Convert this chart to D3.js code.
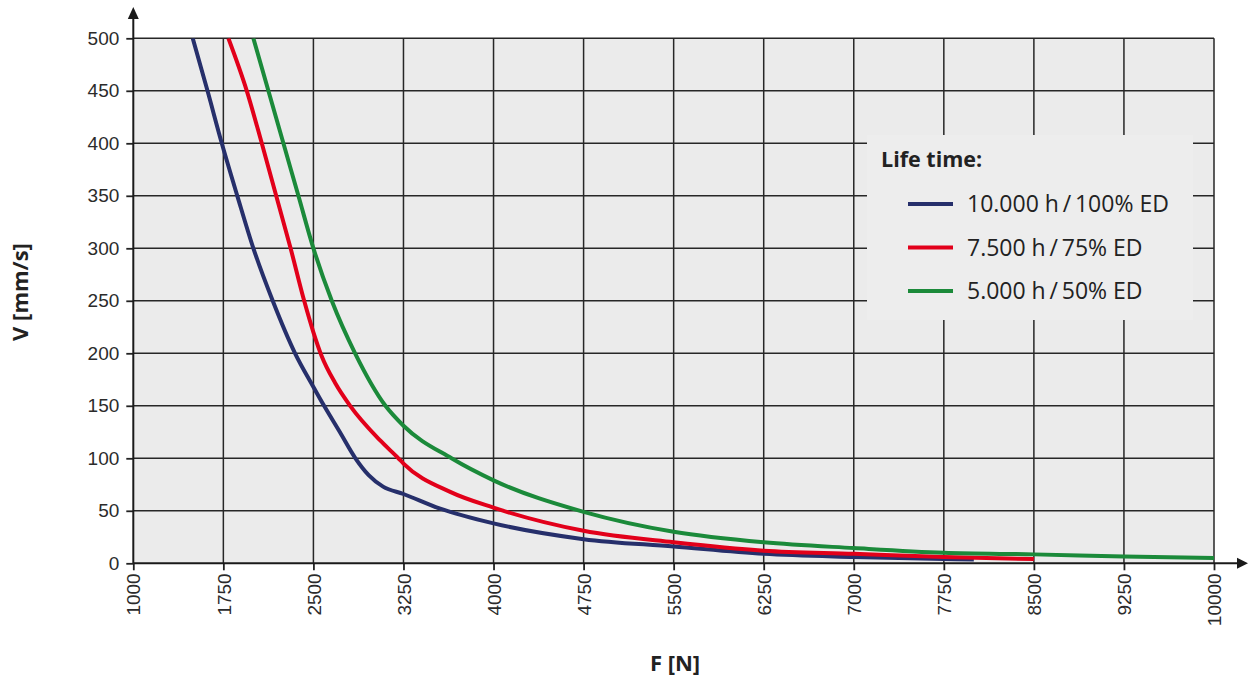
<!DOCTYPE html>
<html>
<head>
<meta charset="utf-8">
<script src="https://cdn.jsdelivr.net/npm/d3@7"></script>
<style>
  body { margin: 0; background: #fff; }
  svg { display: block; }
</style>
</head>
<body>
<div id="chart"></div>
<script>
// Données (F en N, V en mm/s)
const xTicks = [1000, 1750, 2500, 3250, 4000, 4750, 5500, 6250, 7000, 7750, 8500, 9250, 10000];
const yTicks = [0, 50, 100, 150, 200, 250, 300, 350, 400, 450, 500];

const forceBleu = [1495, 1618, 1737, 1866, 2000, 2161, 2347, 2500, 2589, 2720, 2850, 2960, 3080, 3250, 3556, 4000, 4750, 5500, 6250, 7000, 7750, 8000];
const vitesseBleu = [500, 450, 400, 350, 300, 250, 200, 168, 150, 125, 100, 84, 73, 66, 52, 38, 23, 16, 9, 6, 4, 3.5];

const forceRouge = [1792, 1945, 2070, 2190, 2310, 2423, 2500, 2570, 2680, 2806, 3056, 3208, 3250, 3639, 4000, 4750, 5500, 6250, 7000, 7750, 8500];
const vitesseRouge = [500, 450, 400, 350, 300, 250, 220, 197, 172, 150, 117, 100, 95, 68, 53, 31, 20, 12, 9, 6, 4];

const forceVert = [2000, 2125, 2250, 2375, 2500, 2653, 2847, 3100, 3250, 3650, 4000, 4750, 5500, 6250, 7000, 7750, 8500, 9250, 10000];
const vitesseVert = [500, 450, 400, 350, 300, 250, 200, 150, 131, 100, 79, 49, 30, 20, 14.5, 10, 8.5, 6.5, 5];

const series = [
  { nom: "10.000 h\u2009/\u2009100% ED", f: forceBleu, v: vitesseBleu, couleur: "#262f6b" },
  { nom: "7.500 h\u2009/\u200975% ED", f: forceRouge, v: vitesseRouge, couleur: "#e2001a" },
  { nom: "5.000 h\u2009/\u200950% ED", f: forceVert, v: vitesseVert, couleur: "#1b8a3a" }
];

const W = 1248, H = 677;
const svg = d3.select("#chart").append("svg")
  .attr("width", W).attr("height", H);

const x = d3.scaleLinear().domain([1000, 10000]).range([133.3, 1214]);
const y = d3.scaleLinear().domain([0, 500]).range([563.3, 38.3]);

// fond du graphique
svg.append("rect")
  .attr("x", x(1000)).attr("y", y(500))
  .attr("width", x(10000) - x(1000)).attr("height", y(0) - y(500))
  .attr("fill", "#ebebeb");

// grille
const grille = svg.append("g").attr("stroke", "#262626").attr("stroke-width", 1.5);
grille.selectAll("line.v").data(xTicks.slice(1)).join("line")
  .attr("x1", d => x(d)).attr("x2", d => x(d))
  .attr("y1", y(0)).attr("y2", y(500));
grille.selectAll("line.h").data(yTicks.slice(1)).join("line")
  .attr("x1", x(1000)).attr("x2", x(10000))
  .attr("y1", d => y(d)).attr("y2", d => y(d));

// courbes
svg.append("clipPath").attr("id", "clip")
  .append("rect")
  .attr("x", x(1000)).attr("y", y(500))
  .attr("width", x(10000) - x(1000)).attr("height", y(0) - y(500));

const ligne = d3.line()
  .x(d => x(d[0])).y(d => y(d[1]))
  .curve(d3.curveMonotoneX);

svg.append("g").attr("clip-path", "url(#clip)")
  .selectAll("path").data(series).join("path")
  .attr("d", s => ligne(s.f.map((f, i) => [f, s.v[i]])))
  .attr("fill", "none")
  .attr("stroke", s => s.couleur)
  .attr("stroke-width", 4)
  .attr("stroke-linejoin", "round");

// axes
const axeX = svg.append("g")
  .attr("transform", "translate(0," + y(0) + ")")
  .call(d3.axisBottom(x).tickValues(xTicks).tickSize(7).tickFormat(d3.format("d")));
axeX.select(".domain").remove();
axeX.selectAll("line").attr("stroke", "#222").attr("stroke-width", 1.8);
axeX.selectAll("text")
  .attr("transform", "rotate(-90)")
  .attr("x", -10).attr("y", 0).attr("dy", "0.35em")
  .attr("text-anchor", "end")
  .attr("font-family", "Liberation Sans, Arial, sans-serif")
  .attr("font-size", 19).attr("fill", "#2b2b2b");

const axeY = svg.append("g")
  .attr("transform", "translate(" + x(1000) + ",0)")
  .call(d3.axisLeft(y).tickValues(yTicks).tickSize(7));
axeY.select(".domain").remove();
axeY.selectAll("line").attr("stroke", "#222").attr("stroke-width", 1.8);
axeY.selectAll("text")
  .attr("x", -14)
  .attr("font-family", "Liberation Sans, Arial, sans-serif")
  .attr("font-size", 19).attr("fill", "#2b2b2b");

// lignes d'axe avec flèches
svg.append("line")
  .attr("x1", x(1000)).attr("y1", y(0)).attr("x2", 1238).attr("y2", y(0))
  .attr("stroke", "#1a1a1a").attr("stroke-width", 2);
svg.append("path")
  .attr("d", "M1237," + (y(0) - 5.5) + " L1248," + y(0) + " L1237," + (y(0) + 5.5) + "Z")
  .attr("fill", "#1a1a1a");
svg.append("line")
  .attr("x1", x(1000)).attr("y1", y(0)).attr("x2", x(1000)).attr("y2", 18)
  .attr("stroke", "#1a1a1a").attr("stroke-width", 2);
svg.append("path")
  .attr("d", "M" + (x(1000) - 5.5) + ",19 L" + x(1000) + ",7 L" + (x(1000) + 5.5) + ",19Z")
  .attr("fill", "#1a1a1a");

// titres des axes
svg.append("text")
  .attr("x", 675).attr("y", 671)
  .attr("text-anchor", "middle")
  .attr("font-family", "Open Sans, sans-serif").attr("font-weight", "bold")
  .attr("font-size", 22).attr("fill", "#222")
  .text("F [N]");
svg.append("text")
  .attr("transform", "translate(28,292) rotate(-90)")
  .attr("text-anchor", "middle")
  .attr("font-family", "Open Sans, sans-serif").attr("font-weight", "bold")
  .attr("font-size", 22).attr("fill", "#222")
  .text("V [mm/s]");

// légende
const legende = svg.append("g");
legende.append("rect")
  .attr("x", 867).attr("y", 135).attr("width", 326).attr("height", 185)
  .attr("fill", "#ededed");
legende.append("text")
  .attr("x", 881).attr("y", 167)
  .attr("font-family", "Open Sans, sans-serif").attr("font-weight", "bold")
  .attr("font-size", 21.5).attr("fill", "#222")
  .text("Life time:");
const entrees = legende.selectAll("g.entree").data(series).join("g")
  .attr("transform", (d, i) => "translate(0," + (204 + i * 43.5) + ")");
entrees.append("line")
  .attr("x1", 908).attr("x2", 953)
  .attr("stroke", d => d.couleur).attr("stroke-width", 4);
entrees.append("text")
  .attr("x", 967).attr("dy", "0.35em")
  .attr("font-family", "Open Sans, sans-serif")
  .attr("font-size", 23).attr("fill", "#222")
  .text(d => d.nom);
</script>
</body>
</html>
